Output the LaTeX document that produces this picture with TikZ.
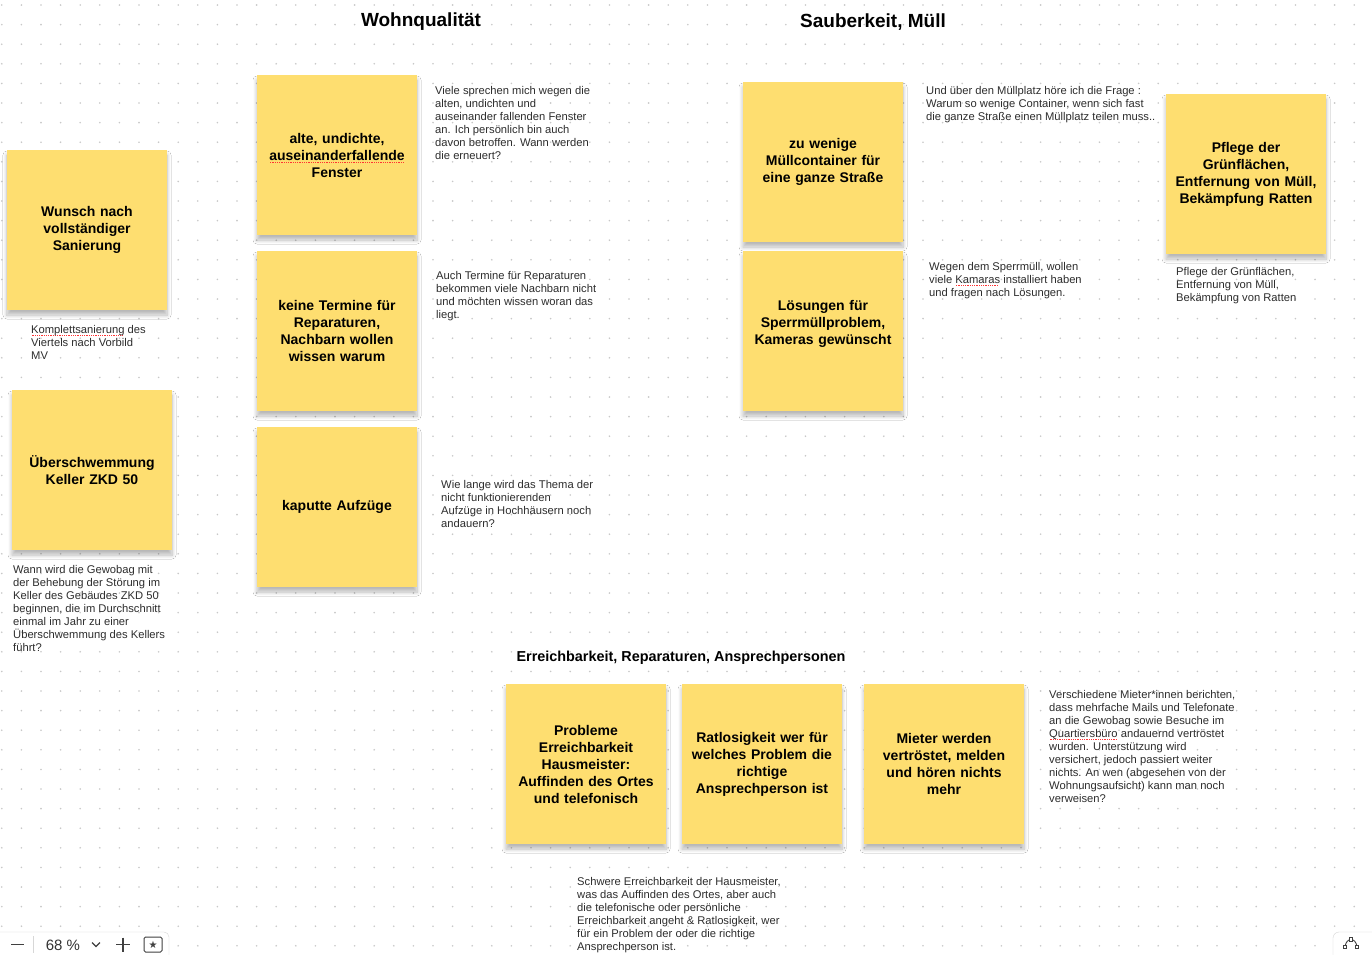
\documentclass[tikz,border=0pt]{standalone}
\usepackage{fontspec}
\setmainfont{Liberation Sans}
\newfontfamily\symbolfont{DejaVu Sans}
\usetikzlibrary{shadows.blur}

\definecolor{stickyyellow}{RGB}{254,222,112}
\definecolor{griddot}{RGB}{200,200,200}
\definecolor{memoink}{RGB}{45,45,45}
\definecolor{panelline}{RGB}{215,215,215}

% red spell-check dots under a word
\newsavebox{\spellbox}
\newcommand{\spell}[1]{\leavevmode\sbox{\spellbox}{#1}\rlap{\textcolor{red!80}{\raisebox{-2.6pt}{\leaders\hbox to 1.8pt{\hss\rule{0.9pt}{0.9pt}\hss}\hskip\wd\spellbox}}}\usebox{\spellbox}}

\tikzset{
	sticky/.style={fill=stickyyellow, minimum width=160pt, minimum height=160pt, inner sep=4pt,
		text width=152pt, align=center, font=\fontsize{14}{17}\selectfont\bfseries,
		blur shadow={shadow xshift=0pt, shadow yshift=-5pt, shadow blur radius=4pt, shadow blur steps=8, shadow opacity=28}},
	memo/.style={anchor=north west, inner sep=0pt, align=left, text=memoink, font=\fontsize{11.2}{13}\selectfont},
	heading/.style={font=\fontsize{19}{22}\selectfont\bfseries}
}

\begin{document}
\begin{tikzpicture}[x=1pt, y=-1pt]

	% Canvas
	
	\useasboundingbox (0, 0) rectangle (1372, 954);
	\fill [white] (0, 0) rectangle (1372, 954);
	
	\foreach \gx in {0, 1, ..., 69}
		\foreach \gy in {0, 1, ..., 48}
			\fill [griddot] (1.8 + 19.6 * \gx, 5 + 19.6 * \gy) circle (0.9pt);
	
	% Headings
	
	\node [heading] (wohnTitle) at (421, 22) {Wohnqualität};
	\node [heading] (muellTitle) at (873, 22) {Sauberkeit, Müll};
	\node [heading, font=\fontsize{14.4}{17}\selectfont\bfseries] (kontaktTitle) at (681, 658) {Erreichbarkeit, Reparaturen, Ansprechpersonen};
	
	% Sticky notes
	
	\foreach \sname/\sx/\sy/\stext in {
		wunsch/87/230/{Wunsch nach\\vollständiger\\Sanierung},
		keller/92/470/{Überschwemmung\\Keller ZKD 50},
		fenster/337/155/{alte, undichte,\\\spell{auseinanderfallende}\\Fenster},
		termine/337/331/{keine Termine für\\Reparaturen,\\Nachbarn wollen\\wissen warum},
		aufzug/337/507/{kaputte Aufzüge},
		container/823/162/{zu wenige\\Müllcontainer für\\eine ganze Straße},
		sperr/823/331/{Lösungen für\\Sperrmüllproblem,\\Kameras gewünscht\\\mbox{}},
		gruen/1246/174/{Pflege der\\Grünflächen,\\Entfernung von Müll,\\Bekämpfung Ratten},
		hausmeister/586/764/{Probleme\\Erreichbarkeit\\Hausmeister:\\Auffinden des Ortes\\und telefonisch},
		ratlos/762/764/{Ratlosigkeit wer für\\welches Problem die\\richtige\\Ansprechperson ist},
		vertroest/944/764/{Mieter werden\\vertröstet, melden\\und hören nichts\\mehr}}
		\node [sticky] (\sname) at (\sx, \sy) {\stext};
	
	% Comments beside the notes
	
	\node [memo] (wunschMemo) at (31, 325) {\spell{Komplettsanierung} des\\Viertels nach Vorbild\\MV};
	\node [memo] (kellerMemo) at (13, 565) {Wann wird die Gewobag mit\\der Behebung der Störung im\\Keller des Gebäudes ZKD 50\\beginnen, die im Durchschnitt\\einmal im Jahr zu einer\\Überschwemmung des Kellers\\führt?};
	\node [memo] (fensterMemo) at (435, 86) {Viele sprechen mich wegen die\\alten, undichten und\\auseinander fallenden Fenster\\an. Ich persönlich bin auch\\davon betroffen. Wann werden\\die erneuert?};
	\node [memo] (termineMemo) at (436, 271) {Auch Termine für Reparaturen\\bekommen viele Nachbarn nicht\\und möchten wissen woran das\\liegt.};
	\node [memo] (aufzugMemo) at (441, 480) {Wie lange wird das Thema der\\nicht funktionierenden\\Aufzüge in Hochhäusern noch\\andauern?};
	\node [memo] (containerMemo) at (926, 86) {Und über den Müllplatz höre ich die Frage :\\Warum so wenige Container, wenn sich fast\\die ganze Straße einen Müllplatz teilen muss..};
	\node [memo] (sperrMemo) at (929, 262) {Wegen dem Sperrmüll, wollen\\viele \spell{Kamaras} installiert haben\\und fragen nach Lösungen.};
	\node [memo] (gruenMemo) at (1176, 267) {Pflege der Grünflächen,\\Entfernung von Müll,\\Bekämpfung von Ratten};
	\node [memo] (hausmeisterMemo) at (577, 877) {Schwere Erreichbarkeit der Hausmeister,\\was das Auffinden des Ortes, aber auch\\die telefonische oder persönliche\\Erreichbarkeit angeht \& Ratlosigkeit, wer\\für ein Problem der oder die richtige\\Ansprechperson ist.};
	\node [memo] (vertroestMemo) at (1049, 690) {Verschiedene Mieter*innen berichten,\\dass mehrfache Mails und Telefonate\\an die Gewobag sowie Besuche im\\\spell{Quartiersbüro} andauernd vertröstet\\wurden. Unterstützung wird\\versichert, jedoch passiert weiter\\nichts. An wen (abgesehen von der\\Wohnungsaufsicht) kann man noch\\verweisen?};
	
	% Zoom bar
	
	\draw [panelline, fill=white, rounded corners=5pt] (-6, 932) rectangle (169, 962);
	\draw [black!75, line width=1.2pt] (11, 944.5) -- (24, 944.5);
	\draw [panelline] (33, 936) -- (33, 953);
	\node [font=\fontsize{15}{17}\selectfont, text=black!80] (zoomLevel) at (63, 945) {68 \%};
	\draw [black!75, line width=1.1pt] (92, 942.5) -- (96, 946.5) -- (100, 942.5);
	\draw [black!75, line width=1.2pt] (116, 944.5) -- (130, 944.5) (123, 937.5) -- (123, 951.5);
	\draw [black!75, line width=1pt, rounded corners=1.5pt] (144, 937) rectangle (162, 952);
	\node [font=\symbolfont\fontsize{10}{10}\selectfont, text=black!75] (starMark) at (153, 944.5) {★};
	
	% Curve tool
	
	\draw [panelline, fill=white, rounded corners=6pt] (1333, 932) rectangle (1380, 962);
	\draw [black!75, line width=0.9pt] (1345, 947) .. controls (1346, 937) and (1356, 937) .. (1357, 947);
	\foreach \ix/\iy in {1345/947, 1351/939.5, 1357/947}
		\draw [black!75, fill=white, line width=0.7pt] (\ix - 1.8, \iy - 1.8) rectangle (\ix + 1.8, \iy + 1.8);

\end{tikzpicture}
\end{document}
